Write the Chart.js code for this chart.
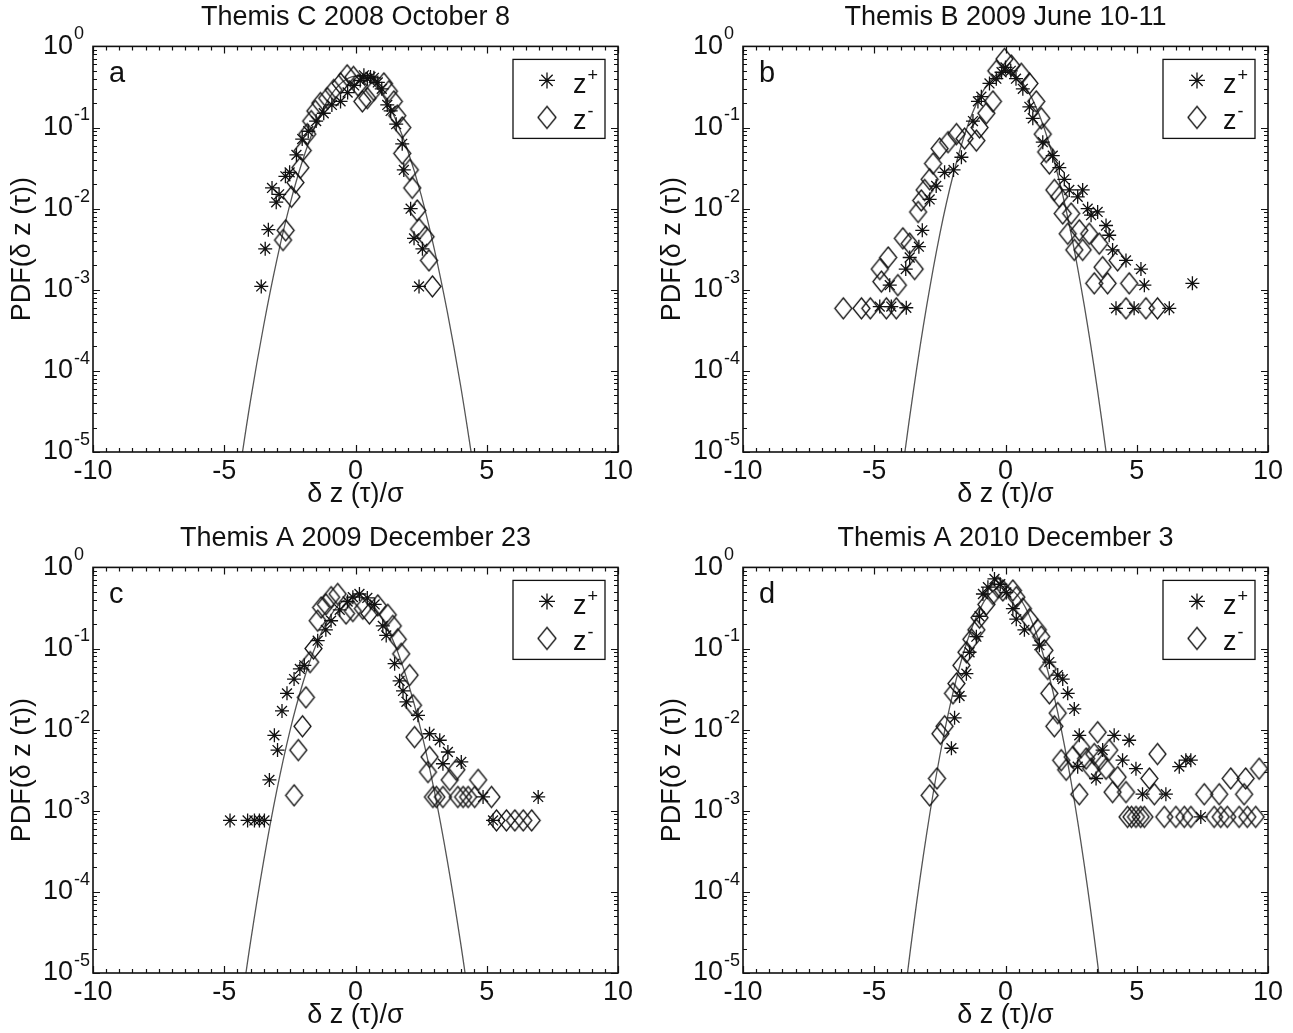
<!DOCTYPE html>
<html>
<head>
<meta charset="utf-8">
<script src="https://cdn.jsdelivr.net/npm/chart.js@4.4.1/dist/chart.umd.min.js"></script>
<style>
  html, body { margin: 0; padding: 0; background: #fff; overflow: hidden; }
  #wrap { position: relative; width: 1293px; height: 1033px; }
  canvas { position: absolute; }
</style>
</head>
<body>
<div id="wrap">
  <canvas id="pa" width="643" height="515" style="left:0;top:0"></canvas>
  <canvas id="pb" width="643" height="515" style="left:650px;top:0"></canvas>
  <canvas id="pc" width="643" height="515" style="left:0;top:521px"></canvas>
  <canvas id="pd" width="643" height="515" style="left:650px;top:521px"></canvas>
</div>
<script>
const FONT = '"Liberation Sans", Arial, Helvetica, sans-serif';
const INK = '#111';

const titles = ['Themis C 2008 October 8', 'Themis B 2009 June 10-11',
                'Themis A 2009 December 23', 'Themis A 2010 December 3'];
const letters = ['a', 'b', 'c', 'd'];
const yTickExps = [0, -1, -2, -3, -4, -5];

// Gaussian reference curves, sampled every 0.5
const fitX = [-4.5, -4, -3.5, -3, -2.5, -2, -1.5, -1, -0.5, 0, 0.5, 1, 1.5, 2, 2.5, 3, 3.5, 4, 4.5];
const fitA = [3.8e-6, 4.3e-5, 3.6e-4, 2.3e-3, 1.12e-2, 4.06e-2, 0.111, 0.232, 0.363, 0.43, 0.384, 0.259, 0.132, 0.0507, 0.0148, 3.2e-3, 5.3e-4, 6.7e-5, 6.3e-6];
const fitB = [1.6e-7, 3.8e-6, 5.9e-5, 6.4e-4, 4.9e-3, 2.56e-2, 9.26e-2, 0.232, 0.403, 0.484, 0.403, 0.232, 9.26e-2, 2.56e-2, 4.9e-3, 6.4e-4, 5.9e-5, 3.8e-6, 1.6e-7];
const fitC = [1.8e-6, 2.4e-5, 2.4e-4, 1.77e-3, 9.6e-3, 3.81e-2, 0.111, 0.239, 0.379, 0.442, 0.379, 0.239, 0.111, 3.81e-2, 9.6e-3, 1.77e-3, 2.4e-4, 2.4e-5, 1.8e-6];
const fitD = [6e-8, 1.9e-6, 3.9e-5, 5.3e-4, 4.8e-3, 2.86e-2, 0.112, 0.293, 0.505, 0.576, 0.435, 0.217, 7.17e-2, 1.57e-2, 2.27e-3, 2.17e-4, 1.37e-5, 5.7e-7, 1.6e-8];

// PDF points [dz/sigma, pdf] for z+ and z-
const plusA = [[-3.59,1.1e-3],[-3.44,3.2e-3],[-3.32,5.5e-3],[-3.18,1.8e-2],[-3.02,1.2e-2],[-2.91,1.5e-2],[-2.67,2.5e-2],[-2.51,2.8e-2],[-2.25,4.6e-2],[-2.03,7.2e-2],[-1.8,9.0e-2],[-1.5,0.12],[-1.21,0.15],[-0.9,0.19],[-0.57,0.21],[-0.3,0.27],[-0.05,0.33],[0.18,0.38],[0.32,0.44],[0.45,0.4],[0.57,0.42],[0.7,0.41],[0.85,0.36],[1.0,0.3],[1.21,0.19],[1.34,0.16],[1.55,0.11],[1.78,0.063],[1.84,0.03],[2.1,0.01],[2.23,4.3e-3],[2.42,1.1e-3],[2.55,3.2e-3]];
const minusA = [[-2.76,4.1e-3],[-2.66,5.4e-3],[-2.44,1.4e-2],[-2.29,2.1e-2],[-2.1,3.2e-2],[-2.01,5.2e-2],[-1.84,8.3e-2],[-1.69,0.12],[-1.53,0.16],[-1.34,0.2],[-1.08,0.23],[-0.83,0.29],[-0.57,0.35],[-0.32,0.44],[-0.08,0.42],[0.1,0.33],[0.26,0.21],[0.45,0.23],[0.7,0.29],[1.08,0.35],[1.27,0.28],[1.46,0.21],[1.59,0.14],[1.78,0.1],[1.78,0.048],[2.07,0.03],[2.16,0.018],[2.35,9.5e-3],[2.42,5.6e-3],[2.67,4.5e-3],[2.8,2.3e-3],[2.93,1.1e-3]];

const plusB = [[-4.79,6.2e-4],[-4.35,6.2e-4],[-3.78,6.0e-4],[-4.41,1.14e-3],[-3.8,1.8e-3],[-3.65,2.5e-3],[-3.3,3.4e-3],[-3.17,5.4e-3],[-2.89,1.3e-2],[-2.64,1.9e-2],[-2.32,2.8e-2],[-1.98,3.0e-2],[-1.68,4.3e-2],[-1.24,0.12],[-1.05,0.21],[-0.92,0.24],[-0.61,0.35],[-0.35,0.4],[-0.15,0.48],[0.0,0.55],[0.2,0.5],[0.4,0.4],[0.66,0.3],[0.91,0.18],[1.04,0.13],[1.42,0.066],[1.8,0.045],[2.05,0.032],[2.24,0.023],[2.43,0.017],[2.94,0.017],[2.75,0.014],[3.13,0.01],[3.51,9.1e-3],[3.26,8.3e-3],[3.83,6.2e-3],[3.95,4.7e-3],[4.08,3.1e-3],[4.59,2.3e-3],[5.16,1.8e-3],[5.29,1.14e-3],[7.12,1.2e-3],[4.21,5.9e-4],[4.9,5.9e-4],[6.24,5.9e-4]];
const minusB = [[-6.18,5.9e-4],[-5.49,5.9e-4],[-5.15,5.9e-4],[-4.54,5.9e-4],[-4.16,5.9e-4],[-4.73,1.26e-3],[-4.1,1.14e-3],[-4.79,1.8e-3],[-4.47,2.5e-3],[-3.46,1.8e-3],[-3.91,4.3e-3],[-3.65,3.7e-3],[-3.33,9.1e-3],[-3.21,1.26e-2],[-3.08,1.7e-2],[-2.89,2.3e-2],[-2.76,3.6e-2],[-2.51,5.5e-2],[-2.19,6.6e-2],[-1.87,8.3e-2],[-1.56,7.3e-2],[-1.11,6.9e-2],[-0.99,0.1],[-0.73,0.15],[-0.48,0.21],[-0.35,0.5],[-0.04,0.7],[0.22,0.58],[0.6,0.46],[0.91,0.35],[1.17,0.21],[1.36,0.13],[1.42,0.083],[1.55,0.05],[1.67,0.036],[1.86,0.017],[2.05,0.014],[2.18,8.7e-3],[2.5,8.7e-3],[2.37,4.9e-3],[2.81,5.4e-3],[3.19,4.9e-3],[2.62,3.1e-3],[2.94,3.1e-3],[3.57,3.7e-3],[3.7,1.9e-3],[4.27,2.3e-3],[3.38,1.2e-3],[3.89,1.2e-3],[4.71,1.2e-3],[4.59,5.9e-4],[5.35,5.9e-4],[5.79,5.9e-4]];

const plusC = [[-4.78,7.6e-4],[-4.11,7.6e-4],[-3.85,7.6e-4],[-3.66,7.6e-4],[-3.47,7.6e-4],[-3.28,2.4e-3],[-2.97,5.6e-3],[-3.09,8.5e-3],[-2.8,1.7e-2],[-2.61,2.8e-2],[-2.34,4.2e-2],[-2.12,5.6e-2],[-1.95,6.2e-2],[-1.44,0.125],[-1.13,0.17],[-0.93,0.22],[-0.6,0.3],[-0.3,0.38],[-0.1,0.43],[0.15,0.47],[0.45,0.42],[0.73,0.35],[1.04,0.19],[1.17,0.145],[1.49,0.065],[1.68,0.04],[1.81,0.03],[1.94,0.022],[2.38,0.015],[2.82,8.9e-3],[3.21,7.4e-3],[3.52,5.3e-3],[3.33,3.8e-3],[4.03,4.0e-3],[4.86,1.48e-3],[5.24,7.6e-4],[6.96,1.48e-3]];
const minusC = [[-2.34,1.55e-3],[-2.18,5.6e-3],[-2.02,1.1e-2],[-1.89,2.5e-2],[-1.73,6.8e-2],[-1.6,0.1],[-1.44,0.22],[-1.31,0.32],[-1.13,0.35],[-0.93,0.43],[-0.68,0.47],[-0.36,0.27],[-0.1,0.29],[0.28,0.31],[0.53,0.27],[0.85,0.34],[1.23,0.26],[1.42,0.19],[1.61,0.13],[1.74,0.086],[2.06,0.047],[2.19,0.02],[2.25,8.1e-3],[2.82,4.6e-3],[2.76,3.0e-3],[2.95,1.48e-3],[3.08,1.48e-3],[3.33,1.48e-3],[3.59,2.4e-3],[3.84,3.2e-3],[3.9,1.48e-3],[4.1,1.48e-3],[4.29,1.48e-3],[4.54,1.48e-3],[4.67,2.4e-3],[5.18,1.48e-3],[5.37,7.6e-4],[5.75,7.6e-4],[6.07,7.6e-4],[6.39,7.6e-4],[6.71,7.6e-4]];

const plusD = [[-2.06,5.9e-3],[-1.94,1.4e-2],[-1.75,2.6e-2],[-1.49,4.9e-2],[-1.37,9.0e-2],[-1.11,0.14],[-0.99,0.25],[-0.86,0.47],[-0.67,0.57],[-0.42,0.72],[-0.2,0.62],[0.03,0.49],[0.28,0.31],[0.41,0.23],[0.72,0.17],[1.29,0.11],[1.67,0.068],[1.99,0.047],[2.18,0.042],[2.37,0.028],[2.62,0.018],[2.81,8.5e-3],[2.75,3.5e-3],[3.45,2.5e-3],[3.7,5.6e-3],[4.14,8.5e-3],[4.46,4.2e-3],[4.71,7.4e-3],[4.97,3.3e-3],[5.22,1.6e-3],[6.11,1.6e-3],[6.62,3.5e-3],[6.87,4.2e-3],[7.06,4.2e-3],[7.44,8.4e-4]];
const minusD = [[-2.89,1.55e-3],[-2.61,2.5e-3],[-2.48,8.9e-3],[-2.32,1.1e-2],[-2.0,2.8e-2],[-1.87,3.7e-2],[-1.68,6.2e-2],[-1.49,9.0e-2],[-1.3,0.13],[-1.11,0.17],[-0.99,0.24],[-0.73,0.35],[-0.48,0.47],[-0.29,0.57],[-0.1,0.52],[0.28,0.52],[0.41,0.43],[0.66,0.31],[0.91,0.23],[1.23,0.17],[1.36,0.14],[1.48,0.095],[1.61,0.056],[1.67,0.028],[1.99,0.016],[1.86,0.011],[2.12,4.2e-3],[2.31,3.2e-3],[2.81,1.6e-3],[2.56,4.6e-3],[2.88,6.1e-3],[3.07,4.4e-3],[3.26,3.3e-3],[3.38,5.0e-3],[3.51,9.3e-3],[3.57,4.2e-3],[3.83,3.3e-3],[3.95,5.6e-3],[4.08,1.7e-3],[4.27,2.6e-3],[4.59,1.7e-3],[5.48,2.5e-3],[5.67,1.6e-3],[5.79,5.0e-3],[4.65,8.4e-4],[4.8,8.4e-4],[4.97,8.4e-4],[5.15,8.4e-4],[5.29,8.4e-4],[6.05,8.4e-4],[6.49,8.4e-4],[6.81,8.4e-4],[7.06,8.4e-4],[7.57,1.6e-3],[7.95,8.4e-4],[8.14,1.6e-3],[8.2,8.4e-4],[8.45,8.4e-4],[8.58,2.5e-3],[8.9,8.4e-4],[9.09,1.6e-3],[9.15,2.5e-3],[9.21,8.4e-4],[9.53,8.4e-4],[9.66,3.3e-3]];

// MATLAB-style diamond marker: a bit taller than wide
function diamondImage(w, h, lw) {
  const c = document.createElement('canvas');
  c.width = w + 4; c.height = h + 4;
  const g = c.getContext('2d');
  const cx = c.width / 2, cy = c.height / 2;
  g.strokeStyle = INK; g.lineWidth = lw; g.lineJoin = 'miter';
  g.beginPath();
  g.moveTo(cx, cy - h / 2); g.lineTo(cx + w / 2, cy);
  g.lineTo(cx, cy + h / 2); g.lineTo(cx - w / 2, cy);
  g.closePath(); g.stroke();
  return c;
}
const diamond = diamondImage(17, 21, 1.3);
const diamondBig = diamondImage(18, 22, 1.3);

function drawStar(ctx, x, y, r) {
  const d = r * Math.SQRT1_2;
  ctx.beginPath();
  ctx.moveTo(x - r, y); ctx.lineTo(x + r, y);
  ctx.moveTo(x, y - r); ctx.lineTo(x, y + r);
  ctx.moveTo(x - d, y - d); ctx.lineTo(x + d, y + d);
  ctx.moveTo(x - d, y + d); ctx.lineTo(x + d, y - d);
  ctx.stroke();
}

// box, inward ticks, log tick labels, panel letter and legend
const framePlugin = {
  id: 'frame',
  afterDraw(chart, args, opts) {
    const { ctx, chartArea: { left, right, top, bottom }, scales: { x, y } } = chart;
    ctx.save();
    ctx.strokeStyle = INK;
    ctx.lineWidth = 1.2;
    ctx.beginPath();
    for (let v = -10; v <= 10; v += 0.5) {
      const px = Math.round(x.getPixelForValue(v)) + 0.5;
      const len = v % 5 === 0 ? 7 : 4;
      ctx.moveTo(px, bottom); ctx.lineTo(px, bottom - len);
      ctx.moveTo(px, top); ctx.lineTo(px, top + len);
    }
    for (let e = -5; e <= 0; e++) {
      for (let m = 1; m <= (e === 0 ? 1 : 9); m++) {
        const py = Math.round(y.getPixelForValue(m * Math.pow(10, e))) + 0.5;
        const len = m === 1 ? 7 : 4;
        ctx.moveTo(left, py); ctx.lineTo(left + len, py);
        ctx.moveTo(right, py); ctx.lineTo(right - len, py);
      }
    }
    ctx.stroke();
    ctx.lineWidth = 1.6;
    ctx.strokeRect(left, top, right - left, bottom - top);

    // y tick labels as 10 with a raised exponent
    ctx.fillStyle = INK;
    ctx.textBaseline = 'middle';
    ctx.textAlign = 'left';
    for (const e of yTickExps) {
      const py = y.getPixelForValue(Math.pow(10, e));
      ctx.font = `27px ${FONT}`;
      const lx = left - 50;
      ctx.fillText('10', lx, py);
      const w = ctx.measureText('10').width;
      ctx.font = `18px ${FONT}`;
      ctx.fillText(String(e), lx + w + 1, py - 12);
    }

    // panel letter
    ctx.textBaseline = 'alphabetic';
    ctx.font = `29px ${FONT}`;
    ctx.fillText(opts.letter, left + 16, top + 36);

    // legend box
    const bw = 92, bh = 79;
    const bx = right - 13 - bw, by = top + 13;
    ctx.fillStyle = '#fff';
    ctx.fillRect(bx, by, bw, bh);
    ctx.lineWidth = 1.3;
    ctx.strokeRect(bx, by, bw, bh);
    ctx.lineWidth = 1.3;
    drawStar(ctx, bx + 34, by + 21, 8);
    ctx.drawImage(diamondBig, bx + 34 - diamondBig.width / 2, by + 58 - diamondBig.height / 2);
    ctx.fillStyle = INK;
    const rows = [['+', 34], ['-', 70]];
    for (const [sup, base] of rows) {
      ctx.font = `27px ${FONT}`;
      ctx.fillText('z', bx + 60, by + base);
      const zw = ctx.measureText('z').width;
      ctx.font = `18px ${FONT}`;
      ctx.fillText(sup, bx + 60 + zw + 1, by + base - 12);
    }
    ctx.restore();
  }
};

function makePanel(id, title, letter, fit, plus, minus) {
  const toXY = pts => pts.map(([px, py]) => ({ x: px, y: py }));
  new Chart(document.getElementById(id), {
    type: 'scatter',
    data: {
      datasets: [
        {
          label: 'z+', data: toXY(plus),
          pointStyle: 'star', pointRadius: 7, borderColor: INK, borderWidth: 1.3,
          backgroundColor: 'transparent',
        },
        {
          label: 'z-', data: toXY(minus),
          pointStyle: diamond, pointRadius: 9, borderColor: INK, borderWidth: 1.3,
        },
        {
          label: 'Gaussian', data: fitX.map((v, i) => ({ x: v, y: fit[i] })),
          showLine: true, pointRadius: 0, borderColor: '#555', borderWidth: 1.3,
          tension: 0.4,
        },
      ],
    },
    options: {
      responsive: false,
      animation: false,
      events: [],
      layout: { padding: { left: 0, right: 25, top: 0, bottom: 0 } },
      plugins: {
        legend: { display: false },
        tooltip: { enabled: false },
        title: {
          display: true, text: title, color: INK, fullSize: false,
          font: { family: FONT, size: 27, weight: 'normal' },
          padding: { top: 1, bottom: 13 },
        },
        frame: { letter },
      },
      scales: {
        x: {
          type: 'linear', min: -10, max: 10,
          grid: { display: false, drawTicks: false },
          border: { display: false },
          ticks: { stepSize: 5, color: INK, padding: 3, font: { family: FONT, size: 27 } },
          title: {
            display: true, text: 'δ z (τ)/σ', color: INK,
            font: { family: FONT, size: 27 }, padding: { top: 0, bottom: 4 },
          },
          afterFit(scale) { scale.height = 63; },
        },
        y: {
          type: 'logarithmic', min: 1e-5, max: 1,
          grid: { display: false, drawTicks: false },
          border: { display: false },
          ticks: { display: false },
          title: {
            display: true, text: 'PDF(δ z (τ))', color: INK,
            font: { family: FONT, size: 27 }, padding: { top: 6, bottom: 0 },
          },
          afterFit(scale) { scale.width = 93; },
        },
      },
    },
    plugins: [framePlugin],
  });
}

makePanel('pa', titles[0], letters[0], fitA, plusA, minusA);
makePanel('pb', titles[1], letters[1], fitB, plusB, minusB);
makePanel('pc', titles[2], letters[2], fitC, plusC, minusC);
makePanel('pd', titles[3], letters[3], fitD, plusD, minusD);
</script>
</body>
</html>
